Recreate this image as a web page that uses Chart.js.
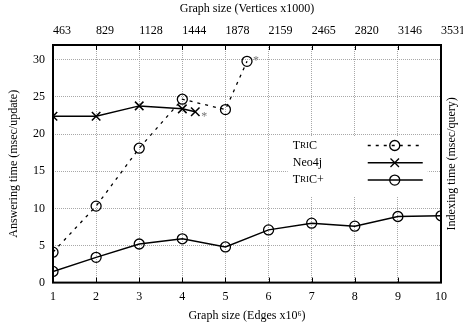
<!DOCTYPE html>
<html><head><meta charset="utf-8">
<script src="https://cdn.jsdelivr.net/npm/chart.js@4/dist/chart.umd.min.js"></script>
<style>html,body{margin:0;padding:0;background:#fff}#wrap{width:463px;height:329px}</style>
</head><body><div id="wrap"><canvas id="c" width="463" height="329"></canvas></div>
<script>
const edgeTicks = [1,2,3,4,5,6,7,8,9,10];
const vertexLabels = ['463','829','1128','1444','1878','2159','2465','2820','3146','3531'];
const yTicks = [0,5,10,15,20,25,30];
const tricX = [1,2,3,4,5,5.5];
const tricY = [4.1,10.3,18.1,24.7,23.3,29.8];
const neoX = [1,2,3,4,4.3];
const neoY = [22.4,22.4,23.8,23.4,23.0];
const tricPlusX = [1,2,3,4,5,6,7,8,9,10];
const tricPlusY = [1.5,3.4,5.2,5.9,4.8,7.1,8.0,7.6,8.9,9.0];
const seriesNames = ['TriC','Neo4j','TriC+'];
const xTitle = 'Graph size (Edges x10\u2076)';
const x2Title = 'Graph size (Vertices x1000)';
const yTitle = 'Answering time (msec/update)';
const y2Title = 'Indexing time (msec/query)';

const FAM = '"Liberation Serif", "DejaVu Serif", serif';
const font = {family: FAM, size: 12};
const pts = (xs, ys) => xs.map((x, i) => ({x: x, y: ys[i]}));

function drawSmallCaps(ctx, text, x, y, size) {
  let cx = x;
  for (const ch of text) {
    const lower = ch !== ch.toUpperCase();
    ctx.font = (lower ? Math.round(size * 0.78) : size) + 'px ' + FAM;
    const c = lower ? ch.toUpperCase() : ch;
    ctx.fillText(c, cx, y);
    cx += ctx.measureText(c).width;
  }
}

const framePlugin = {
  id: 'frame',
  afterDatasetsDraw(chart) {
    const {ctx, chartArea: a} = chart;
    ctx.save();
    ctx.fillStyle = '#777';
    ctx.font = '12px ' + FAM;
    ctx.textBaseline = 'middle';
    [0, 1].forEach(di => {
      const meta = chart.getDatasetMeta(di);
      const el = meta.data[meta.data.length - 1];
      ctx.fillText('*', el.x + 6, el.y + (di === 0 ? 0 : 5));
    });
    ctx.restore();

    ctx.save();
    const lx = a.left + (a.right - a.left) * 0.605;
    const ly = a.top + (a.bottom - a.top) * 0.385;
    ctx.fillStyle = '#fff';
    ctx.fillRect(lx, ly, 140, 60);
    [0, 1, 2].forEach(i => {
      const ds = chart.data.datasets[i];
      const ry = ly + 9 + i * 17.3;
      ctx.fillStyle = '#000';
      ctx.textBaseline = 'middle';
      ctx.textAlign = 'left';
      if (i === 1) { ctx.font = '12px ' + FAM; ctx.fillText(seriesNames[i], lx + 5, ry); }
      else drawSmallCaps(ctx, seriesNames[i], lx + 5, ry, 12);
      const sx0 = lx + 80, sx1 = lx + 135, mx = lx + 107;
      ctx.strokeStyle = '#000';
      ctx.lineWidth = ds.borderWidth;
      ctx.setLineDash(ds.borderDash || []);
      ctx.beginPath(); ctx.moveTo(sx0, ry); ctx.lineTo(sx1, ry); ctx.stroke();
      ctx.setLineDash([]);
      ctx.lineWidth = 1.3;
      ctx.fillStyle = 'rgba(0,0,0,0)';
      Chart.helpers.drawPoint(ctx, {pointStyle: ds.pointStyle, radius: ds.pointRadius, rotation: 0, borderWidth: 1.3}, mx, ry);
    });
    ctx.restore();
  },
  afterDraw(chart) {
    const {ctx, chartArea: a, scales} = chart;
    ctx.save();
    ctx.strokeStyle = '#000';
    ctx.lineWidth = 1;
    ctx.beginPath();
    edgeTicks.forEach(v => {
      const px = Math.round(scales.x.getPixelForValue(v)) + 0.5;
      ctx.moveTo(px, a.top); ctx.lineTo(px, a.top + 5);
      ctx.moveTo(px, a.bottom); ctx.lineTo(px, a.bottom - 5);
    });
    ctx.stroke();
    ctx.lineWidth = 2;
    ctx.strokeRect(a.left, a.top, a.right - a.left, a.bottom - a.top);
    ctx.fillStyle = '#000';
    ctx.font = '12px ' + FAM;
    ctx.textBaseline = 'middle';
    ctx.textAlign = 'left';
    edgeTicks.forEach((v, i) => {
      ctx.fillText(vertexLabels[i], scales.x.getPixelForValue(v), 30.5);
    });
    ctx.textAlign = 'center';
    const cx = (a.left + a.right) / 2, cy = (a.top + a.bottom) / 2;
    ctx.fillText(x2Title, cx, 9);
    ctx.fillText(xTitle, cx, 316);
    ctx.save();
    ctx.translate(14, cy);
    ctx.rotate(-Math.PI / 2);
    ctx.fillText(yTitle, 0, 0);
    ctx.restore();
    ctx.translate(a.right + 11, cy);
    ctx.rotate(-Math.PI / 2);
    ctx.fillText(y2Title, 0, 0);
    ctx.restore();
  }
};

const gridOpts = {color: '#a8a8a8', lineWidth: 1, drawTicks: false, tickLength: 0};
const borderOff = {display: false, dash: [1, 1]};

new Chart(document.getElementById('c'), {
  type: 'line',
  data: {
    datasets: [
      {label: seriesNames[0], data: pts(tricX, tricY), borderColor: '#000', borderWidth: 1.3,
       borderDash: [3, 5], pointStyle: 'circle', pointRadius: 5, pointBorderWidth: 1.3,
       pointBorderColor: '#000', pointBackgroundColor: 'rgba(0,0,0,0)', tension: 0},
      {label: seriesNames[1], data: pts(neoX, neoY), borderColor: '#000', borderWidth: 1.5,
       pointStyle: 'crossRot', pointRadius: 6, pointBorderWidth: 1.5,
       pointBorderColor: '#000', pointBackgroundColor: 'rgba(0,0,0,0)', tension: 0},
      {label: seriesNames[2], data: pts(tricPlusX, tricPlusY), borderColor: '#000', borderWidth: 1.5,
       pointStyle: 'circle', pointRadius: 5, pointBorderWidth: 1.3,
       pointBorderColor: '#000', pointBackgroundColor: 'rgba(0,0,0,0)', tension: 0}
    ]
  },
  options: {
    responsive: false,
    animation: false,
    devicePixelRatio: 1,
    layout: {padding: {left: 25, right: 22, top: 45, bottom: 18}},
    plugins: {legend: {display: false}, tooltip: {enabled: false}},
    scales: {
      x: {type: 'linear', position: 'bottom', min: 1, max: 10,
          afterBuildTicks: ax => { ax.ticks = edgeTicks.map(v => ({value: v})); },
          ticks: {font, color: '#000', padding: 7, maxRotation: 0},
          grid: gridOpts, border: borderOff, title: {display: false}},
      y: {type: 'linear', position: 'left', min: 0, max: 32,
          afterBuildTicks: ax => { ax.ticks = yTicks.map(v => ({value: v})); },
          ticks: {font, color: '#000', padding: 8},
          grid: gridOpts, border: borderOff, title: {display: false}}
    }
  },
  plugins: [framePlugin]
});
</script></body></html>
